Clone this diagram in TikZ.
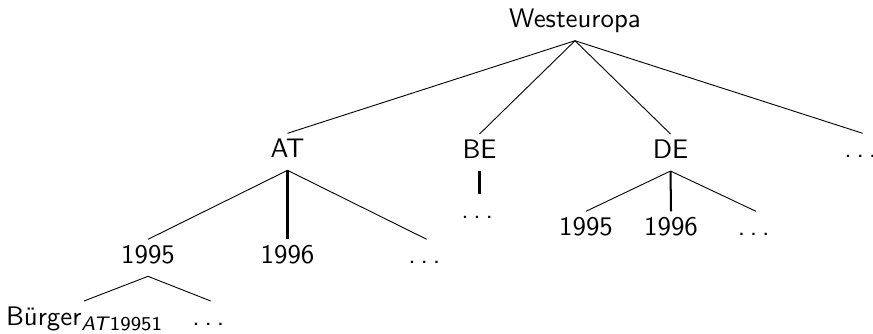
\documentclass[tikz,border=0pt]{standalone}
\begin{document}
\begin{tikzpicture}[x=0.3876pt,y=-0.3876pt,
  lbl/.style={anchor=base, inner sep=0pt, text height=9.1pt, text depth=4.85pt,
              font=\sffamily\fontsize{10.4pt}{12.5pt}\selectfont},
  branch/.style={line width=0.35pt},
  heavy/.style={line width=1.24pt},
  medium/.style={line width=0.93pt},
  light/.style={line width=0.78pt}]
\newcommand\mydots{.\kern0.175em.\kern0.175em.\kern0.175em}
\useasboundingbox (0,0) rectangle (873,333);

% root
\node[lbl] (w) at (575,27.7) {Westeuropa};

% countries
\node[lbl] (at) at (287.5,157.3) {AT};
\node[lbl] (be) at (479.5,158) {BE};
\node[lbl] (de) at (670.5,158) {DE};
\node[lbl] (more) at (862.7,157.3) {\mydots};

% years below AT
\node[lbl] (at95) at (148,263.3) {1995};
\node[lbl] (at96) at (287.5,263.3) {1996};
\node[lbl] (atmore) at (426.7,263.3) {\mydots};

% below BE
\node[lbl] (bemore) at (479.5,218) {\mydots};

% years below DE
\node[lbl] (de95) at (586,235.3) {1995};
\node[lbl] (de96) at (671,235.3) {1996};
\node[lbl] (demore) at (756,235.3) {\mydots};

% citizens of AT in 1995
\node[lbl] (buerger) at (84,325) {B\"urger\raisebox{-2.3pt}{\fontsize{7.6pt}{8pt}\selectfont\textit{AT}19951}};
\node[lbl] (bmore) at (210.7,325) {\mydots};

% connectors
\draw[branch] (w.south) -- (at.north);
\draw[branch] (w.south) -- (be.north);
\draw[branch] (w.south) -- (de.north);
\draw[branch] (w.south) -- (more.north);

\draw[branch] (at.south) -- (at95.north);
\draw[heavy]  (at.south) -- (at96.north);
\draw[branch] (at.south) -- (atmore.north);

\draw[medium] (be.south) -- (bemore.north);

\draw[branch] (de.south) -- (de95.north);
\draw[light]  (de.south) -- (de96.north);
\draw[branch] (de.south) -- (demore.north);

\draw[branch] (at95.south) -- (buerger.north);
\draw[branch] (at95.south) -- (bmore.north);
\end{tikzpicture}
\end{document}
